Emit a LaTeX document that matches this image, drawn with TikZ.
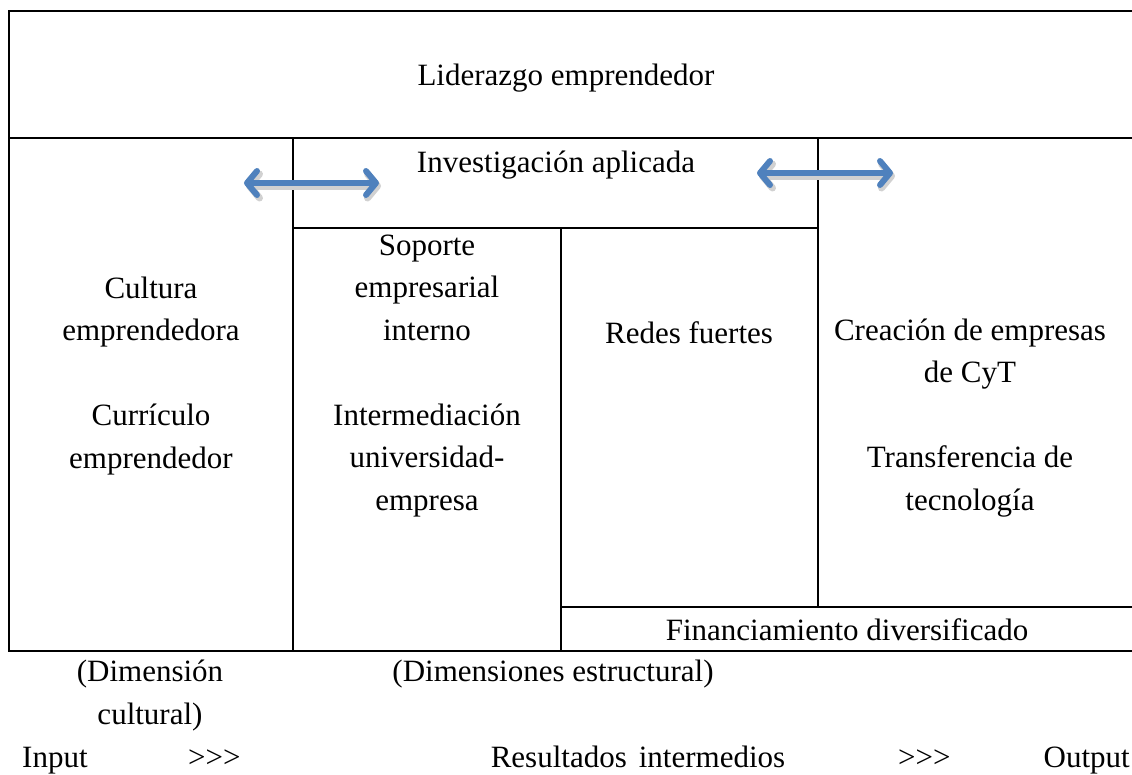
\documentclass[tikz,border=0pt]{standalone}
\usepackage{fontspec}
\setmainfont{Liberation Serif}
\usetikzlibrary{arrows.meta}
\definecolor{arrowblue}{HTML}{4F81BD}
\tikzset{
  frame/.style={line width=2.6pt, line cap=rect},
  lbl/.style={font=\fontsize{31}{42.5}\selectfont, align=center, inner sep=0pt, anchor=base},
  dblarrow/.style={arrowblue, line width=6pt, line cap=round,
    {Straight Barb[round, length=10pt, width=24pt, line width=6pt]}-{Straight Barb[round, length=10pt, width=24pt, line width=6pt]}},
  arrowshadow/.style={black!18, line width=7pt, line cap=round,
    {Straight Barb[round, length=10pt, width=24pt, line width=7pt]}-{Straight Barb[round, length=10pt, width=24pt, line width=7pt]}}
}
\begin{document}
\begin{tikzpicture}[x=1pt, y=-1pt]
\useasboundingbox (0,0) rectangle (1132,774);
% frame lines
\draw[frame] (1132,11) -- (9,11) -- (9,651) -- (1132,651);
\draw[frame] (9,138) -- (1132,138);
\draw[frame] (293,138) -- (293,651);
\draw[frame] (293,228) -- (818,228);
\draw[frame] (818,138) -- (818,607);
\draw[frame] (561,228) -- (561,651);
\draw[frame] (561,607) -- (1132,607);
% texts
\node[lbl] (lider) at (566,85) {Liderazgo emprendedor};
\node[lbl] (invest) at (556,172) {Investigación aplicada};
\node[lbl] (cultura) at (151,468) {Cultura\\emprendedora\\[42.5pt]Currículo\\emprendedor};
\node[lbl] (soporte) at (427,510) {Soporte\\empresarial\\interno\\[42.5pt]Intermediación\\universidad-\\empresa};
\node[lbl] (redes) at (689,343) {Redes fuertes};
\node[lbl] (creacion) at (970,510) {Creación de empresas\\de CyT\\[42.5pt]Transferencia de\\tecnología};
\node[lbl] (finan) at (847,640) {Financiamiento diversificado};
\node[lbl] (dimcult) at (150,724) {(Dimensión\\cultural)};
\node[lbl] (dimest) at (553,681) {(Dimensiones estructural)};
\node[lbl, anchor=base west] (input) at (22,767) {Input};
\node[lbl, anchor=base west] (gt1) at (188,767) {>{}>{}>};
\node[lbl] (resint) at (638,767) {Resultados\hspace{12pt}intermedios};
\node[lbl, anchor=base west] (gt2) at (898,767) {>{}>{}>};
\node[lbl, anchor=base east] (output) at (1130,767) {Output};
% arrows
\coordinate (a1l) at (244,183);
\coordinate (a1r) at (379,183);
\coordinate (a2l) at (757,173);
\coordinate (a2r) at (893,173);
\draw[arrowshadow] ([shift={(2,3)}]a1l) -- ([shift={(2,3)}]a1r);
\draw[arrowshadow] ([shift={(2,3)}]a2l) -- ([shift={(2,3)}]a2r);
\draw[dblarrow] (a1l) -- (a1r);
\draw[dblarrow] (a2l) -- (a2r);
\end{tikzpicture}
\end{document}
